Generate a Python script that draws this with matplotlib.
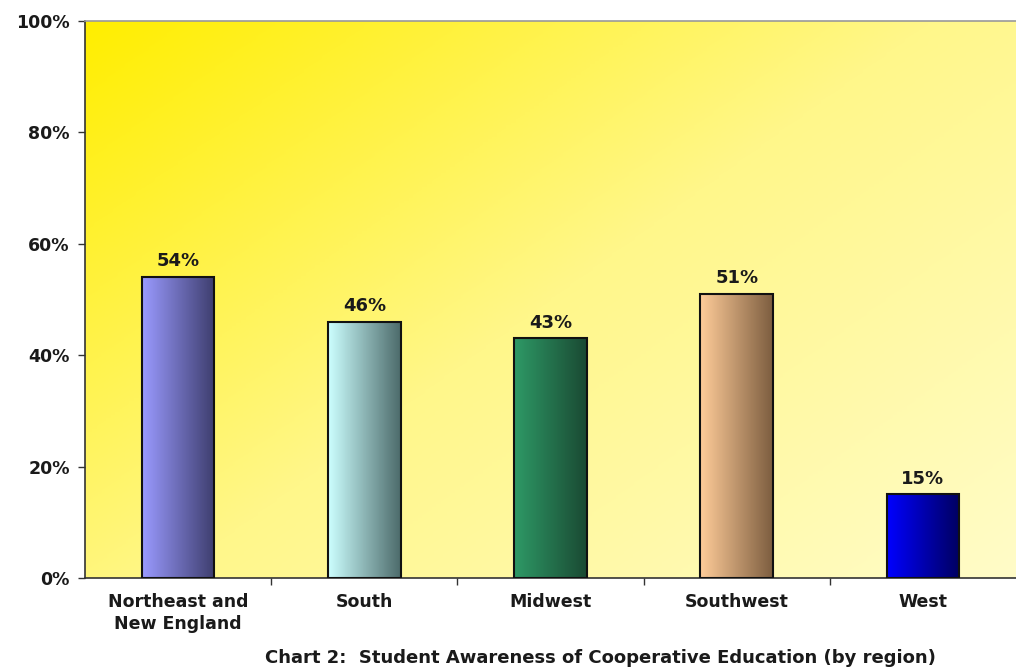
import numpy as np
import matplotlib
matplotlib.use("Agg")
import matplotlib.pyplot as plt
from matplotlib.colors import LinearSegmentedColormap

categories = ["Northeast and\nNew England", "South", "Midwest", "Southwest", "West"]
values = [54, 46, 43, 51, 15]
value_labels = ["54%", "46%", "43%", "51%", "15%"]
yticks = [0, 20, 40, 60, 80, 100]
ytick_labels = ["0%", "20%", "40%", "60%", "80%", "100%"]
bar_left_colors = ["#9a9aff", "#ccffff", "#2e9966", "#ffcc99", "#0000ff"]
bar_right_colors = ["#3e3e6e", "#4d6b6b", "#1a4a33", "#7d5e40", "#000060"]
title = "Chart 2:  Student Awareness of Cooperative Education (by region)"

plt.rcParams['font.family'] = ['DejaVu Sans']
fig = plt.figure(figsize=(10.16, 6.71), dpi=100)
fig.patch.set_facecolor("white")
ax = fig.add_axes([85/1016, 1-578/671, 1-85/1016, (578-21)/671])

x = np.arange(len(categories))
ax.set_xlim(-0.5, len(categories) - 0.5)
ax.set_ylim(0, 100)

# background gradient
nx, ny = 200, 200
gx = np.linspace(0, 1, nx)[None, :]
gy = np.linspace(0, 1, ny)[:, None]  # 0 top, 1 bottom
t = np.clip(0.55 * gx + 0.45 * gy, 0, 1)
bg_cmap = LinearSegmentedColormap.from_list("bg", ["#ffee00", "#fff78a", "#fffcc8"])
ax.imshow(t, cmap=bg_cmap, extent=[0, 1, 0, 1], transform=ax.transAxes,
          aspect="auto", zorder=0, interpolation="bilinear")

bars = ax.bar(x, values, width=0.39, facecolor="none", edgecolor="#111111",
              linewidth=1.5, zorder=3)
grad = np.linspace(0, 1, 100)[None, :]
for b, c0, c1 in zip(bars, bar_left_colors, bar_right_colors):
    cm = LinearSegmentedColormap.from_list("b", [c0, c1])
    x0, y0 = b.get_x(), b.get_y()
    w, h = b.get_width(), b.get_height()
    im = ax.imshow(grad, cmap=cm, extent=[x0, x0 + w, y0, y0 + h],
                   aspect="auto", zorder=2, interpolation="bilinear")
    im.set_clip_path(b)

for xi, v, lab in zip(x, values, value_labels):
    ax.annotate(lab, (xi, v), xytext=(0, 5), textcoords="offset points",
                ha="center", va="bottom", fontsize=13, fontweight="bold",
                color="#1a1a1a")

ax.set_yticks(yticks)
ax.set_yticklabels(ytick_labels, fontsize=12.5, fontweight="bold", color="#1a1a1a")
ax.set_xticks(x)
ax.set_xticklabels(categories, fontsize=12.5, fontweight="bold", color="#1a1a1a",
                   linespacing=1.3)
ax.tick_params(axis="x", length=0, pad=11)
ax.set_xticks(np.arange(0.5, len(categories) - 0.5, 1), minor=True)
ax.tick_params(axis="x", which="minor", length=5, width=1, direction="out", color="#333333")
ax.tick_params(axis="y", length=5, width=1, direction="out", color="#333333", pad=6)

ax.spines["right"].set_visible(False)
ax.spines["top"].set_color("#999999")
ax.spines["top"].set_linewidth(1.2)
ax.spines["left"].set_color("#333333")
ax.spines["left"].set_linewidth(1.2)
ax.spines["bottom"].set_color("#333333")
ax.spines["bottom"].set_linewidth(1.2)

fig.text(600/1016, 1-658/671, title, ha="center", va="center", fontsize=13,
         fontweight="bold", color="#1a1a1a")

fig.savefig("out.png", dpi=100)
